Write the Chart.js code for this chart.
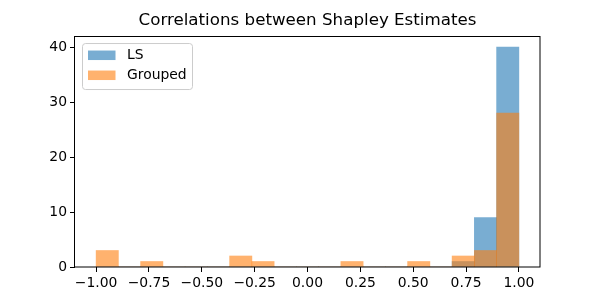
<!DOCTYPE html>
<html>
<head>
<meta charset="utf-8">
<script src="https://cdn.jsdelivr.net/npm/chart.js@4/dist/chart.umd.min.js"></script>
<style>
  html, body { margin: 0; padding: 0; background: #fff; }
  #wrap { width: 600px; height: 300px; }
</style>
</head>
<body>
<div id="wrap"><canvas id="chart" width="600" height="300"></canvas></div>
<script>
// histogram bins: 19 bins between -1 and 1 (edges like np.linspace(-1, 1, 20))
const binLow = -1;
const binHigh = 1;
const binCount = 19;

const lsCounts      = [0, 0, 0, 0, 0, 0, 0, 0, 0, 0, 0, 0, 0, 0, 0, 0, 1, 9, 40];
const groupedCounts = [3, 0, 1, 0, 0, 0, 2, 1, 0, 0, 0, 1, 0, 0, 1, 0, 2, 3, 28];

const xTicks = [-1, -0.75, -0.5, -0.25, 0, 0.25, 0.5, 0.75, 1];
const yTicks = [0, 10, 20, 30, 40];

const titleText = "Correlations between Shapley Estimates";
const seriesNames = ["LS", "Grouped"];
const seriesColors = ["rgba(31,119,180,0.6)", "rgba(255,127,14,0.6)"];

const FONT = "'DejaVu Sans', sans-serif";

let binCenters = [];
for (let i = 0; i < binCount; i++) {
  let w = (binHigh - binLow) / binCount;
  binCenters.push(binLow + w * (i + 0.5));
}

function toPoints(counts) {
  return counts.map(function (c, i) { return { x: binCenters[i], y: c }; });
}

function fmtTick(v) {
  let s = Math.abs(v).toFixed(2);
  return (v < 0 ? "\u2212" : "") + s;
}

// axes frame + legend box drawn like matplotlib
const framePlugin = {
  id: "frame",
  afterDatasetsDraw(chart) {
    const ctx = chart.ctx;
    const a = chart.chartArea;
    ctx.save();
    ctx.strokeStyle = "#000";
    ctx.lineWidth = 1;
    ctx.strokeRect(Math.round(a.left) - 0.5, Math.round(a.top) + 0.5,
                   Math.round(a.right - a.left) + 0.5, Math.round(a.bottom - a.top) - 0.5);

    // legend
    const x0 = a.left + 7.5, y0 = a.top + 7.5;
    const bw = 110, bh = 46;
    ctx.beginPath();
    ctx.roundRect(x0, y0, bw, bh, 3);
    ctx.fillStyle = "rgba(255,255,255,0.8)";
    ctx.fill();
    ctx.strokeStyle = "#cccccc";
    ctx.stroke();

    ctx.font = "13.9px " + FONT;
    ctx.textBaseline = "middle";
    ctx.textAlign = "left";
    for (let i = 0; i < seriesNames.length; i++) {
      let cy = a.top + 19 + i * 20;
      ctx.fillStyle = seriesColors[i];
      ctx.fillRect(a.left + 13, cy - 4.5, 27.5, 9.5);
      ctx.fillStyle = "#000";
      ctx.fillText(seriesNames[i], a.left + 52, cy + 0.5);
    }
    ctx.restore();
  }
};

new Chart(document.getElementById("chart"), {
  type: "bar",
  data: {
    datasets: [
      {
        label: seriesNames[0],
        data: toPoints(lsCounts),
        backgroundColor: seriesColors[0],
        borderWidth: 0,
        grouped: false,
        barPercentage: 1,
        categoryPercentage: 1,
        order: 1
      },
      {
        label: seriesNames[1],
        data: toPoints(groupedCounts),
        backgroundColor: seriesColors[1],
        borderWidth: 0,
        grouped: false,
        barPercentage: 1,
        categoryPercentage: 1,
        order: 0
      }
    ]
  },
  options: {
    responsive: false,
    animation: false,
    grouped: false,
    layout: { padding: { left: 0, right: 60, top: 0, bottom: 0 } },
    plugins: {
      legend: { display: false },
      tooltip: { enabled: false },
      title: {
        display: true,
        fullSize: false,
        text: titleText,
        color: "#000",
        font: { family: FONT, size: 16.7, weight: "normal" },
        padding: { top: 11, bottom: 5 }
      }
    },
    scales: {
      x: {
        type: "linear",
        min: -1.1,
        max: 1.1,
        offset: false,
        grid: { display: true, drawOnChartArea: false, drawTicks: true, tickLength: 5, color: "#000", offset: false },
        border: { display: false },
        ticks: {
          color: "#000",
          font: { family: FONT, size: 13.9 },
          padding: 3,
          maxRotation: 0,
          autoSkip: false,
          callback: function (v) { return fmtTick(v); }
        },
        afterBuildTicks: function (scale) {
          scale.ticks = xTicks.map(function (v) { return { value: v }; });
        },
        afterFit: function (scale) { scale.height = 33; }
      },
      y: {
        min: 0,
        max: 42,
        grid: { display: true, drawOnChartArea: false, drawTicks: true, tickLength: 5, color: "#000" },
        border: { display: false },
        ticks: {
          color: "#000",
          font: { family: FONT, size: 13.9 },
          padding: 3,
          autoSkip: false
        },
        afterBuildTicks: function (scale) {
          scale.ticks = yTicks.map(function (v) { return { value: v }; });
        },
        afterFit: function (scale) { scale.width = 75; }
      }
    }
  },
  plugins: [framePlugin]
});
</script>
</body>
</html>
